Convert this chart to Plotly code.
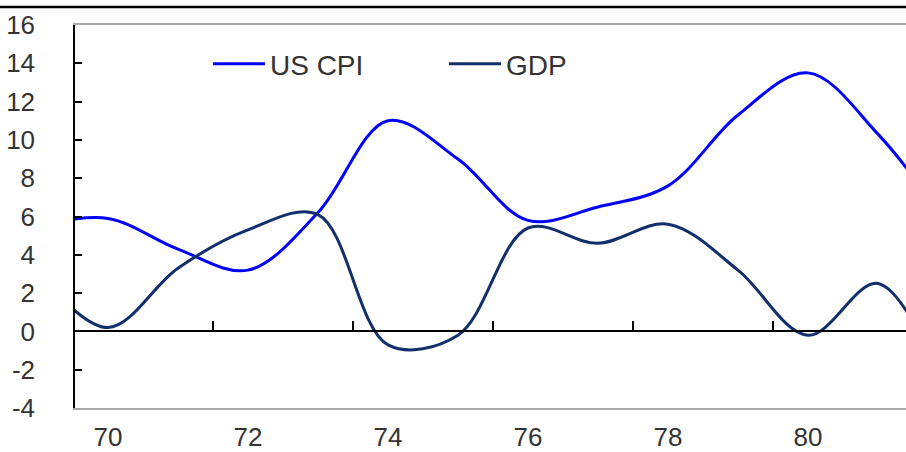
import plotly.graph_objects as go

# Annual observations (year as two-digit label)
years = [69, 70, 71, 72, 73, 74, 75, 76, 77, 78, 79, 80, 81, 82]
us_cpi = [5.5, 5.9, 4.3, 3.2, 6.2, 11.0, 9.0, 5.8, 6.5, 7.6, 11.3, 13.5, 10.3, 5.6]
gdp = [3.1, 0.2, 3.3, 5.3, 6.1, -0.7, -0.2, 5.4, 4.6, 5.6, 3.2, -0.2, 2.5, -3.5]

x_labels = [70, 72, 74, 76, 78, 80]
zero_ticks = [71.5, 73.5, 75.5, 77.5, 79.5]
y_ticks = list(range(-4, 17, 2))

x_range = [69.53, 81.4]
text_color = "#333333"
font_family = "Liberation Sans, Arial, sans-serif"

fig = go.Figure()
fig.add_trace(go.Scatter(
    x=years, y=us_cpi, name="US CPI", mode="lines",
    line=dict(color="#0000ff", width=3, shape="spline", smoothing=1.0),
    xaxis="x", yaxis="y",
))
fig.add_trace(go.Scatter(
    x=years, y=gdp, name="GDP", mode="lines",
    line=dict(color="#112f6b", width=3, shape="spline", smoothing=1.0),
    xaxis="x2", yaxis="y",
))

fig.update_layout(
    width=906, height=452,
    margin=dict(l=75, r=0, t=25, b=44),
    paper_bgcolor="white", plot_bgcolor="white",
    font=dict(family=font_family, size=26, color=text_color),
    showlegend=True,
    legend=dict(
        orientation="h", x=0.16, xanchor="left", y=0.898, yanchor="middle",
        font=dict(size=28, color=text_color),
        bgcolor="rgba(0,0,0,0)", itemwidth=52,
        entrywidth=169, entrywidthmode="pixels",
    ),
    xaxis=dict(
        range=x_range, tickmode="array", tickvals=x_labels,
        ticktext=[str(v) for v in x_labels],
        ticks="", showgrid=False, zeroline=False, automargin=False,
        showline=True, linecolor="#a8a8a8", linewidth=2, mirror=True,
        ticklabelstandoff=5,
    ),
    xaxis2=dict(
        range=x_range, matches="x", overlaying="x", anchor="free", position=0.2,
        tickmode="array", tickvals=zero_ticks, ticks="inside", ticklen=10,
        tickwidth=1.5, tickcolor="black", showticklabels=False,
        showgrid=False, zeroline=False, automargin=False,
        showline=True, linecolor="black", linewidth=1.5,
    ),
    yaxis=dict(
        range=[-4, 16], tickmode="array", tickvals=y_ticks,
        ticktext=[str(v) for v in y_ticks],
        ticks="inside", ticklen=7, tickwidth=1.5, tickcolor="black",
        showgrid=False, zeroline=False, automargin=False,
        showline=True, linecolor="black", linewidth=1.5,
        ticklabelstandoff=33,
    ),
)

# Rule across the top of the page
fig.add_shape(
    type="line", xref="paper", yref="paper",
    x0=-75 / 831, x1=1, y0=1.047, y1=1.047,
    line=dict(color="black", width=2.5),
)

fig.write_html("out.html")
